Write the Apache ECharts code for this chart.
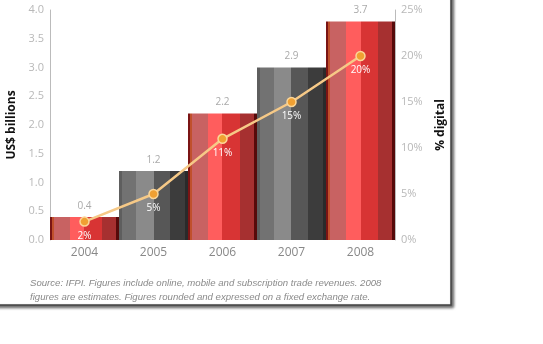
<!DOCTYPE html>
<html><head><meta charset="utf-8">
<script src="https://cdn.jsdelivr.net/npm/echarts@6/dist/echarts.min.js"></script>
<style>html,body{margin:0;padding:0;background:#fff;}#c{width:543px;height:344px;}</style>
</head><body><div id="c"></div>
<script>
var years = ['2004','2005','2006','2007','2008'];
var barValues = [0.4, 1.2, 2.2, 3.0, 3.8];
var barLabels = ['0.4','1.2','2.2','2.9','3.7'];
var digitalShare = [2, 5, 11, 15, 20];
var leftTicks = [0, 0.5, 1, 1.5, 2, 2.5, 3, 3.5, 4];
var rightTicks = [0, 5, 10, 15, 20, 25];
var footnote = 'Source: IFPI. Figures include online, mobile and subscription trade revenues. 2008\nfigures are estimates. Figures rounded and expressed on a fixed exchange rate.';

function stripes(cols){
  var stops=[];
  cols.forEach(function(c){stops.push({offset:c[0],color:c[2]});stops.push({offset:c[1],color:c[2]});});
  return {type:'linear',x:0,y:0,x2:1,y2:0,colorStops:stops};
}
var redGrad = stripes([[0,0.03,'#7a1414'],[0.03,0.06,'#c0502c'],[0.06,0.29,'#c86262'],[0.29,0.5,'#ff5d5d'],[0.5,0.76,'#d83434'],[0.76,0.95,'#a63030'],[0.95,1,'#560a0a']]);
var grayGrad = stripes([[0,0.04,'#5e5e5e'],[0.04,0.24,'#727272'],[0.24,0.5,'#8a8a8a'],[0.5,0.74,'#575757'],[0.74,0.96,'#3c3c3c'],[0.96,1,'#2a2a2a']]);

var chart = echarts.init(document.getElementById('c'));
var tickFont = {color:'#b8b8b8', fontSize:11, fontFamily:'Open Sans'};
chart.setOption({
  animation:false,
  graphic:[
    {type:'rect', z:-10, shape:{x:-10,y:-10,width:461,height:315},
     style:{fill:'#fff', stroke:'#444', lineWidth:1.5, shadowBlur:3, shadowOffsetX:2, shadowOffsetY:2, shadowColor:'rgba(0,0,0,0.6)'}},
    {type:'text', left:30, top:276, z:10,
     style:{text:footnote, fill:'#8a8a8a', font:'italic 9.6px "Liberation Sans"', lineHeight:14}}
  ],
  grid:{left:50, right:148, top:10, bottom:104, outerBoundsMode:'none', containLabel:false},
  xAxis:{type:'category', data:years, axisLine:{show:false}, axisTick:{show:false},
    axisLabel:{color:'#888', fontSize:12, fontFamily:'Open Sans', margin:7}},
  yAxis:[
    {type:'value', min:0, max:4, interval:0.5, name:'US$ billions', nameLocation:'middle', nameGap:32, nameRotate:90,
     nameTextStyle:{color:'#111', fontSize:12, fontWeight:'bold', fontFamily:'Open Sans'},
     axisLine:{show:true, lineStyle:{color:'#bbb'}}, axisTick:{show:false}, splitLine:{show:false},
     axisLabel:Object.assign({margin:6, formatter:function(v){return v.toFixed(1);}}, tickFont)},
    {type:'value', min:0, max:25, interval:5, name:'% digital', nameLocation:'middle', nameGap:40, nameRotate:90,
     nameTextStyle:{color:'#111', fontSize:12, fontWeight:'bold', fontFamily:'Open Sans'},
     axisLine:{show:true, lineStyle:{color:'#bbb'}}, axisTick:{show:false}, splitLine:{show:false},
     axisLabel:Object.assign({margin:6, formatter:'{value}%'}, tickFont)}
  ],
  series:[
    {type:'bar', barWidth:'100%', barCategoryGap:0, z:2,
     data:barValues.map(function(v,i){return {value:v, itemStyle:{color: i%2===0?redGrad:grayGrad},
       label:{show:true, position:'top', distance:6, formatter:barLabels[i], color:'#aaa', fontSize:10, fontFamily:'Open Sans'}};})},
    {type:'line', yAxisIndex:1, data:digitalShare, z:5, symbol:'circle', symbolSize:9,
     lineStyle:{color:'#f6c987', width:2.5}, itemStyle:{color:'#f0a032', borderColor:'#fbd698', borderWidth:1.5},
     label:{show:true, position:'bottom', distance:4, formatter:'{c}%', color:'#fff', fontSize:10, fontFamily:'Open Sans'}}
  ]
});
</script></body></html>
